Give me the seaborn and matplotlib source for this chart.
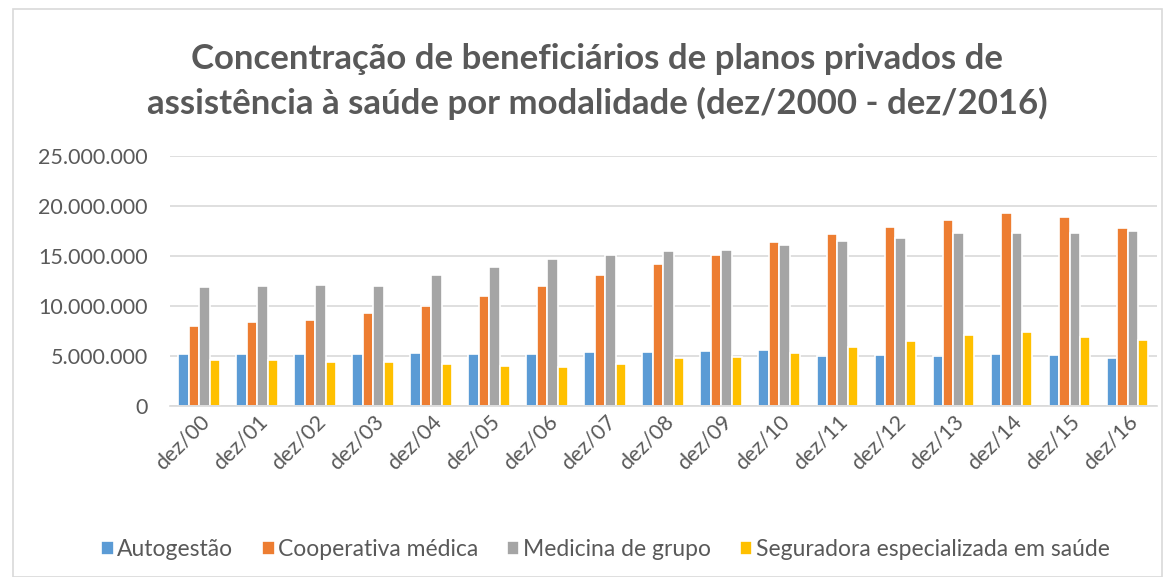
import matplotlib
matplotlib.use("Agg")
import matplotlib.pyplot as plt
import matplotlib.ticker as mticker
from matplotlib.patches import Rectangle
import pandas as pd
import seaborn as sns

# Dados (beneficiários, em milhões)
anos = ["dez/00", "dez/01", "dez/02", "dez/03", "dez/04", "dez/05", "dez/06", "dez/07", "dez/08",
        "dez/09", "dez/10", "dez/11", "dez/12", "dez/13", "dez/14", "dez/15", "dez/16"]
autogestao = [5.26, 5.19, 5.22, 5.26, 5.32, 5.19, 5.26, 5.39, 5.46, 5.49, 5.59, 4.99, 5.16, 5.06, 5.19, 5.09, 4.82]
cooperativa = [7.97, 8.37, 8.57, 9.28, 10.01, 11.00, 12.02, 13.12, 14.23, 15.06, 16.44, 17.19, 17.87, 18.57, 19.31, 18.84, 17.84]
medicina_grupo = [11.89, 12.05, 12.15, 11.99, 13.05, 13.93, 14.70, 15.13, 15.53, 15.63, 16.10, 16.47, 16.81, 17.31, 17.31, 17.27, 17.54]
seguradora = [4.59, 4.59, 4.39, 4.39, 4.26, 3.99, 3.95, 4.26, 4.79, 4.89, 5.29, 5.89, 6.49, 7.07, 7.43, 6.90, 6.63]

series = {
    "Autogestão": autogestao,
    "Cooperativa médica": cooperativa,
    "Medicina de grupo": medicina_grupo,
    "Seguradora especializada em saúde": seguradora,
}
cores = ["#5B9BD5", "#ED7D31", "#A5A5A5", "#FFC000"]

df = pd.DataFrame(
    [(a, nome, v * 1e6) for nome, vals in series.items() for a, v in zip(anos, vals)],
    columns=["ano", "modalidade", "valor"],
)

sns.set_style("white")
plt.rcParams["font.family"] = ["Lato", "DejaVu Sans"]
texto = "#595959"

fig = plt.figure(figsize=(11.73, 5.77), dpi=100)
ax = fig.add_axes([0.145, 0.296, 0.841, 0.434])

sns.barplot(data=df, x="ano", y="valor", hue="modalidade", hue_order=list(series.keys()),
            palette=cores, saturation=1, width=0.72, edgecolor="white", linewidth=1.2,
            ax=ax, legend=True)

ax.set_ylim(0, 25e6)
ax.set_xlim(-0.5, len(anos) - 0.5)
ax.yaxis.set_major_locator(mticker.MultipleLocator(5e6))
ax.yaxis.set_major_formatter(mticker.FuncFormatter(lambda v, p: f"{int(v):,}".replace(",", ".")))
ax.grid(axis="y", color="#d9d9d9", linewidth=1.2)
ax.set_axisbelow(True)
for s in ["top", "right", "left"]:
    ax.spines[s].set_visible(False)
ax.spines["bottom"].set_color("#d9d9d9")
ax.spines["bottom"].set_linewidth(1.2)
ax.set_xlabel("")
ax.set_ylabel("")
ax.tick_params(axis="y", length=0, pad=16, labelsize=15.5, labelcolor=texto)
ax.tick_params(axis="x", which="major", length=0, labelsize=15.5, labelcolor=texto, pad=4)
ax.set_xticks([i - 0.5 for i in range(len(anos) + 1)], minor=True)
ax.tick_params(axis="x", which="minor", length=6, color="#d9d9d9", width=1.2)
for lbl in ax.get_xticklabels():
    lbl.set_rotation(45)
    lbl.set_ha("right")
    lbl.set_rotation_mode("anchor")

handles, labels = ax.get_legend_handles_labels()
ax.get_legend().remove()
fig.legend(handles, labels, loc="center", bbox_to_anchor=(0.516, 0.048), ncol=4, frameon=False,
           fontsize=16.5, labelcolor=texto, handlelength=0.55, handleheight=0.55,
           handletextpad=0.15, columnspacing=1.25)

fig.text(0.509, 0.859, "Concentração de beneficiários de planos privados de\nassistência à saúde por modalidade (dez/2000 - dez/2016)",
         ha="center", va="center", fontsize=25, fontweight="bold", color=texto, linespacing=1.42)

fig.patches.append(Rectangle((0.011, 0.0), 0.98, 0.985, transform=fig.transFigure,
                             fill=False, edgecolor="#d9d9d9", linewidth=1.2))

fig.savefig("out.png", dpi=100)
